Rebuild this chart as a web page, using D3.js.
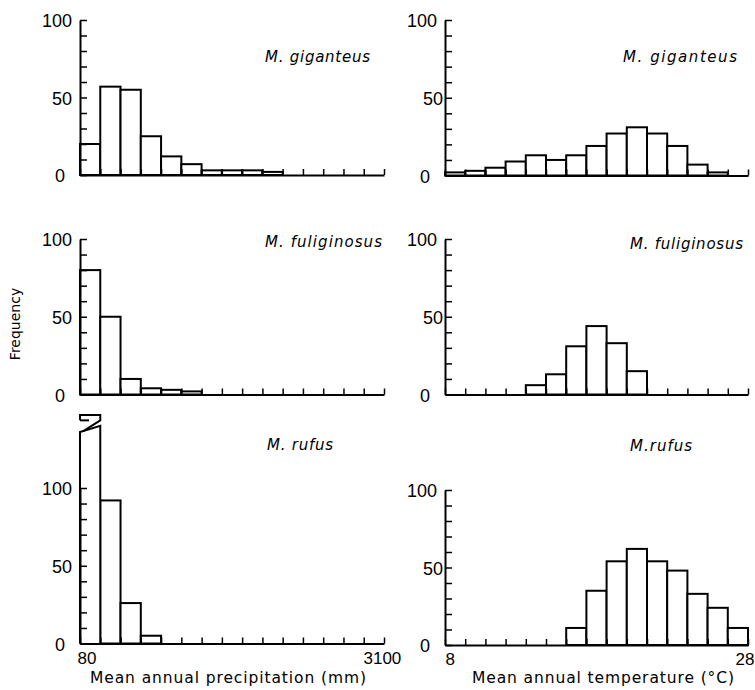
<!DOCTYPE html>
<html><head><meta charset="utf-8">
<script src="https://cdn.jsdelivr.net/npm/d3@7"></script>
<style>
body{margin:0;background:#fff}
svg{display:block}
text{fill:#000}
.num{font-family:"Liberation Sans",Arial,sans-serif}
.lab{font-family:"DejaVu Sans",sans-serif}
</style>
</head><body>
<svg id="chart" width="755" height="690"></svg>
<script>
// ---------------- data ----------------
const precipTickLabels = ["80", "3100"];
const tempTickLabels = ["8", "28"];
const yTickLabels = [0, 50, 100];
const speciesLeft = ["M. giganteus", "M. fuliginosus", "M. rufus"];
const speciesRight = ["M. giganteus", "M. fuliginosus", "M.rufus"];
const xTitles = ["Mean annual precipitation (mm)", "Mean annual temperature (°C)"];
const yTitle = "Frequency";

// 15 bins each, frequencies
const precipGiganteus   = [20, 57, 55, 25, 12, 7, 3, 3, 3, 2, 0, 0, 0, 0, 0];
const precipFuliginosus = [80, 50, 10, 4, 3, 2, 0, 0, 0, 0, 0, 0, 0, 0, 0];
const precipRufus       = [147, 92, 26, 5, 0, 0, 0, 0, 0, 0, 0, 0, 0, 0, 0]; // first bar broken (off scale)
const tempGiganteus     = [2, 3, 5, 9, 13, 10, 13, 19, 27, 31, 27, 19, 7, 2, 0];
const tempFuliginosus   = [0, 0, 0, 0, 6, 13, 31, 44, 33, 15, 0, 0, 0, 0, 0];
const tempRufus         = [0, 0, 0, 0, 0, 0, 11, 35, 54, 62, 54, 48, 33, 24, 11];

// ---------------- layout ----------------
const svg = d3.select("#chart");
const colX = [[80, 384], [445, 748]];
const rowY = [[[175, 20], [175.5, 20]], [[394.5, 239], [394.5, 239]], [[643.5, 488], [645, 490]]];
const labelPos = [
  [{x: 265, y: 62, w: 105}, {x: 623, y: 62, w: 114}],
  [{x: 265, y: 247, w: 117}, {x: 630, y: 249, w: 113}],
  [{x: 267, y: 450, w: 66}, {x: 630, y: 451, w: 62}]
];

const panels = [
  {values: precipGiganteus, row: 0, col: 0},
  {values: precipFuliginosus, row: 1, col: 0},
  {values: precipRufus, row: 2, col: 0, broken: 0},
  {values: tempGiganteus, row: 0, col: 1},
  {values: tempFuliginosus, row: 1, col: 1},
  {values: tempRufus, row: 2, col: 1}
];

panels.forEach(p => {
  const [x0, x1] = colX[p.col];
  const [y0, y1] = rowY[p.row][p.col];
  const x = d3.scaleLinear().domain([0, p.values.length]).range([x0, x1]);
  const y = d3.scaleLinear().domain([0, 100]).range([y0, y1]);
  const g = svg.append("g");

  const bars = p.values.map((v, i) => ({v, i})).filter(d => d.v > 0);
  const normal = bars.filter(d => d.i !== p.broken);
  g.selectAll("rect.bar").data(normal).join("rect")
    .attr("class", "bar")
    .attr("x", d => x(d.i)).attr("width", d => x(d.i + 1) - x(d.i))
    .attr("y", d => y(d.v)).attr("height", d => y(0) - y(d.v))
    .attr("fill", "#fff").attr("stroke", "#000").attr("stroke-width", 2);

  if (p.broken !== undefined) {
    const d = bars.find(b => b.i === p.broken);
    const xa = x(d.i), xb = x(d.i + 1);
    // lower part of the broken bar (slanted top)
    g.append("path")
      .attr("d", `M${xa},${y(0)} V${y(d.v - 11)} L${xb},${y(d.v - 7)} V${y(0)}`)
      .attr("fill", "#fff").attr("stroke", "#000").attr("stroke-width", 2)
      .attr("stroke-linejoin", "miter");
    // upper cap of the break with zig-zag
    g.append("path")
      .attr("d", `M${xa},${y(d.v - 3.5)} V${y(d.v)} H${xb} V${y(d.v - 3.5)} L${xa + 3},${y(d.v - 10.5)}`)
      .attr("fill", "none").attr("stroke", "#000").attr("stroke-width", 2);
    g.append("path")
      .attr("d", `M${xa},${y(d.v - 3.5)} H${xa + 9}`)
      .attr("fill", "none").attr("stroke", "#000").attr("stroke-width", 2);
  }

  // x axis: upward ticks at every bin edge
  const xAxis = d3.axisBottom(x).tickValues(d3.range(0, p.values.length + 1))
    .tickSize(-6).tickSizeOuter(0).tickFormat("");
  const gx = g.append("g").attr("transform", `translate(0,${y0})`).call(xAxis);
  gx.select(".domain").attr("stroke-width", 2);
  gx.selectAll(".tick line").attr("stroke-width", 1.5);

  // y axis: inward ticks every 10
  const yAxis = d3.axisLeft(y).tickValues(d3.range(0, 101, 10))
    .tickSize(-7).tickSizeOuter(0).tickPadding(9)
    .tickFormat(v => yTickLabels.includes(v) ? String(v) : "");
  const gy = g.append("g").attr("transform", `translate(${x0},0)`).call(yAxis);
  gy.attr("font-family", null).attr("font-size", null);
  gy.select(".domain").attr("stroke-width", 2);
  gy.selectAll(".tick line").attr("stroke-width", 1.5);
  gy.selectAll(".tick text").attr("class", "num").attr("font-size", 18)
    .attr("x", v => v === 0 ? -15 : (p.col === 1 && v === 50 ? -2 : -8))
    .attr("dy", "0.38em");

  // species label
  const lp = labelPos[p.row][p.col];
  const names = p.col === 0 ? speciesLeft : speciesRight;
  svg.append("text").attr("class", "lab").attr("x", lp.x).attr("y", lp.y)
    .attr("font-size", 15).attr("font-style", "italic")
    .attr("textLength", lp.w).attr("lengthAdjust", "spacing")
    .text(names[p.row]);

  // x tick labels on bottom row
  if (p.row === 2) {
    const labels = p.col === 0 ? precipTickLabels : tempTickLabels;
    const offs = p.col === 0 ? [-3, -21] : [0, -13];
    const lAxis = d3.axisBottom(x).tickValues([0, p.values.length]).tickSize(0).tickPadding(4)
      .tickFormat((v, i) => labels[i]);
    const gl = g.append("g").attr("transform", `translate(0,${y0})`).call(lAxis);
    gl.attr("font-family", null).attr("font-size", null);
    gl.select(".domain").remove();
    gl.selectAll(".tick text").attr("class", "num").attr("font-size", 17).attr("text-anchor", "start")
      .attr("x", (v, i) => offs[i]).attr("y", 8).attr("dy", "0.71em");
  }
});

// axis titles
svg.append("text").attr("class", "lab").attr("x", 90).attr("y", 683).attr("font-size", 15.5)
  .attr("textLength", 276).attr("lengthAdjust", "spacing").text(xTitles[0]);
svg.append("text").attr("class", "lab").attr("x", 472).attr("y", 683).attr("font-size", 15.5)
  .attr("textLength", 262).attr("lengthAdjust", "spacing").text(xTitles[1]);
svg.append("text").attr("class", "lab").attr("transform", "translate(20,324) rotate(-90)")
  .attr("text-anchor", "middle").attr("font-size", 14).text(yTitle);
</script>
</body></html>
